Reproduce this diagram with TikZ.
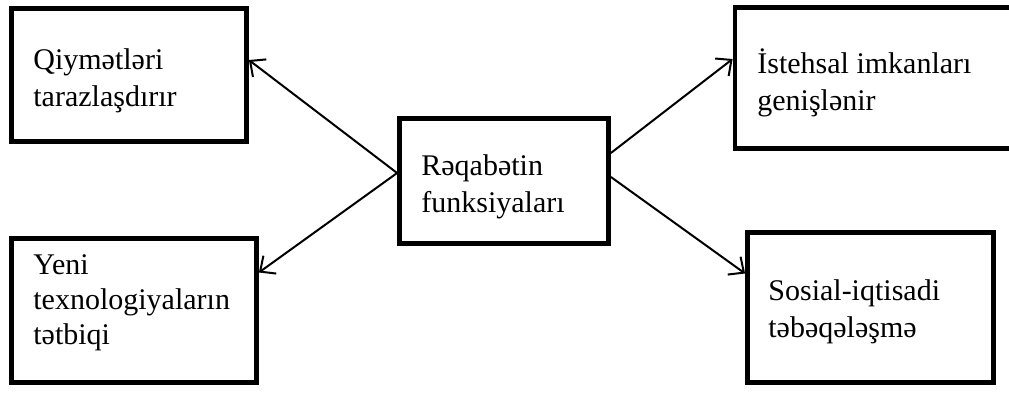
\documentclass[tikz,border=0pt]{standalone}
\usepackage{fontspec}
\setmainfont{Liberation Serif}
\usetikzlibrary{arrows.meta}
\tikzstyle{box} = [draw, rectangle, line width=2.4pt, inner sep=0pt]
\tikzstyle{txt} = [align=left, anchor=base west, inner sep=0pt,
    font=\fontsize{15}{18.5}\selectfont]
\tikzstyle{arrow} = [line width=1pt, -{Straight Barb[length=6pt,width=11pt]}]

\begin{document}
\begin{tikzpicture}[x=0.5pt,y=-0.5pt]
            \useasboundingbox (0,0) rectangle (1009,392);
            % boxes
            \node[box, minimum width=117.5pt, minimum height=66.5pt] (qiymet) at (129,75) {};
            \node[box, minimum width=122.5pt, minimum height=72pt] (yeni) at (134,310.5) {};
            \node[box, minimum width=104.5pt, minimum height=62.5pt] (reqabet) at (504,181) {};
            \node[box, minimum width=140pt, minimum height=70.5pt] (istehsal) at (875,78) {};
            \node[box, minimum width=123pt, minimum height=75pt] (sosial) at (870.5,307.5) {};
            % texts (placed at the baseline of the last line)
            \node[txt] (qiymet-t) at (33,106) {Qiymətləri\\tarazlaşdırır};
            \node[txt, font=\fontsize{15}{17.3}\selectfont] (yeni-t) at (33,344) {Yeni\\texnologiyaların\\tətbiqi};
            \node[txt] (reqabet-t) at (421,212) {Rəqabətin\\funksiyaları};
            \node[txt] (istehsal-t) at (757,110) {İstehsal imkanları\\genişlənir};
            \node[txt] (sosial-t) at (768,337) {Sosial-iqtisadi\\təbəqələşmə};
            % arrows
            \draw[arrow] ([yshift=4pt]reqabet.west) -- ([yshift=7.5pt]qiymet.east);
            \draw[arrow] ([yshift=4pt]reqabet.west) -- ([yshift=19pt]yeni.east);
            \draw[arrow] ([yshift=14pt]reqabet.east) -- ([yshift=9.5pt]istehsal.west);
            \draw[arrow] ([yshift=2pt]reqabet.east) -- ([yshift=17pt]sosial.west);
\end{tikzpicture}
\end{document}
